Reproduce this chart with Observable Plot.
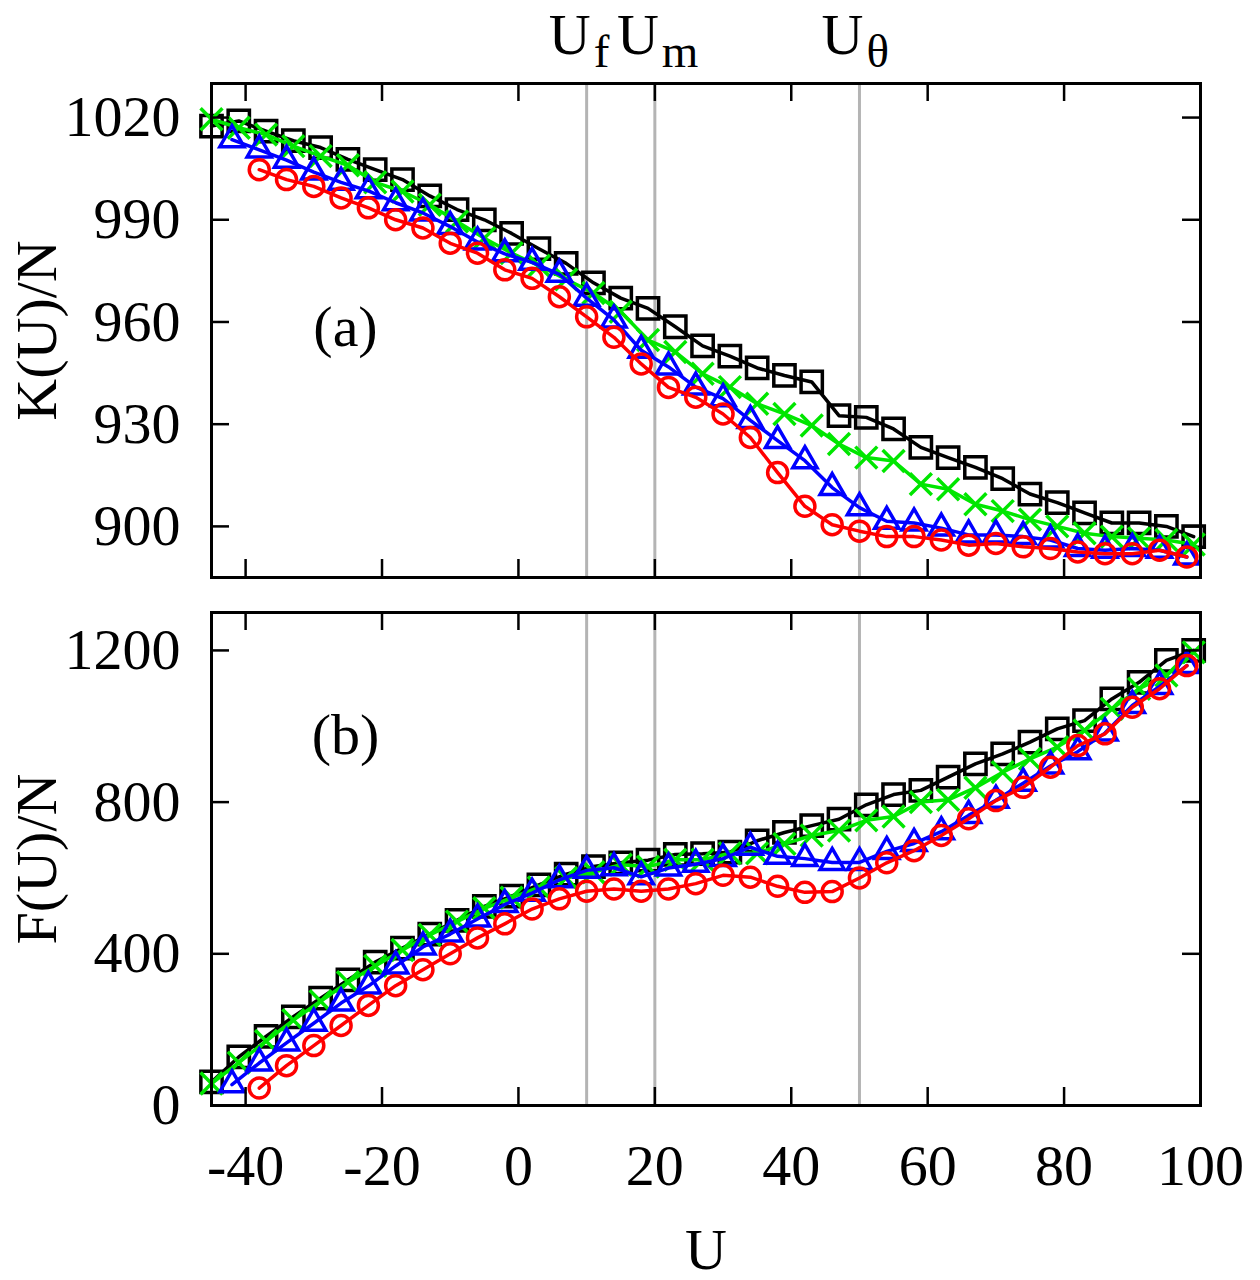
<!DOCTYPE html>
<html><head><meta charset="utf-8">
<script src="https://cdn.jsdelivr.net/npm/d3@7"></script>
<script src="https://cdn.jsdelivr.net/npm/@observablehq/plot@0.6"></script>
<style>body{margin:0;background:#fff} #chart{width:1260px}</style>
</head><body><div id="chart"></div>
<script>
// U grids
const uOdd = [-45,-41,-37,-33,-29,-25,-21,-17,-13,-9,-5,-1,3,7,11,15,19,23,27,31,35,39,43,47,51,55,59,63,67,71,75,79,83,87,91,95,99];
const uTri = [-42,-38,-34,-30,-26,-22,-18,-14,-10,-6,-2,2,6,10,14,18,22,26,30,34,38,42,46,50,54,58,62,66,70,74,78,82,86,90,94,98];
const uCirc = [-38,-34,-30,-26,-22,-18,-14,-10,-6,-2,2,6,10,14,18,22,26,30,34,38,42,46,50,54,58,62,66,70,74,78,82,86,90,94,98];

// (a) K(U)/N
const kBlack = [1017.5,1019,1016,1013.2,1011.2,1007.7,1004.7,1001.8,997,993,990,986,981.5,977.2,971.5,967,964,958.6,953,950,946.5,944.3,942.4,932.5,932,928.6,923.2,920.2,917.3,914,909.5,907,904,901,901,900,897];
const kGreen = [1019.5,1017,1015,1011.6,1008.7,1006,1001,998.3,994.4,989.5,984.6,980.2,976.5,972.5,968.5,963,954.7,951.2,944.8,940.9,936,933,929.6,924.2,920.2,919.2,912.4,910.9,906.5,904.5,902,900,898,897,896.5,896,894.7];
const kBlue = [1013.5,1010.5,1007.5,1004,1001,998.5,995,992,988,983.5,980,977.5,974,967,960.6,951.7,946.8,940.9,937.5,931.1,925.2,919.3,911.4,905.5,901.5,901,899.5,897.5,897.5,897,896,893.5,893,893.5,893,891];
const kRed = [1004.7,1001.8,999.8,996.4,993.5,990,987.6,983.1,980.2,975.3,972.8,967.4,961.5,955.5,947.7,940.8,937.9,933,926.1,915.8,905.9,900.5,898.6,897,897,896,894.5,895,894,893.5,892.5,892,892,893,891];

// (b) F(U)/N
const fBlack = [62,128,182,234,283,331,378,415,452,488,525,552,582,610,630,640,647,662,664,668,698,720,738,755,793,820,831,866,901,927,958,993,1015,1072,1116,1174,1200];
const fGreen = [58,113,170,225,275,325,368,410,450,485,520,548,575,600,615,635,630,648,648,665,665,690,712,725,752,762,800,806,838,879,914,945,989,1046,1099,1134,1195];
const fBlue = [55,112,165,217,270,315,368,418,452,492,530,560,595,620,627,603,626,636,651,681,657,651,641,641,670,691,722,765,805,850,895,933,982,1055,1105,1160];
const fRed = [46,105,158,211,264,316,358,400,442,479,518,545,565,571,565,571,585,607,602,578,562,564,600,640,672,712,756,804,839,892,949,980,1050,1099,1160];

const xTicks = [-40,-20,0,20,40,60,80,100];
const kTicks = [900,930,960,990,1020];
const fTicks = [0,400,800,1200];
const vLines = [10,20,50];
const vLabels = [{u:10, base:"U", sub:"f"},{u:20, base:"U", sub:"m"},{u:50, base:"U", sub:"θ"}];

const font = "'Liberation Serif','Times New Roman',serif";
const W = 1260, mL = 211, mR = 60, FS = 58;

function zipSeries(us, vs){ return us.map((u,i)=>({u, v: vs[i]})); }

function panel({height, marginTop, marginBottom, yDomain, yTicks, series, yLabel, tag, tagDy, showX, showTop}) {
  const fw = W - mL - mR, fh = height - marginTop - marginBottom, T = 18;
  const marks = [
    Plot.ruleX(vLines, {x: d => d, stroke: "#b4b4b4", strokeWidth: 3})
  ];
  for (const s of series) {
    const data = zipSeries(s.u, s.v);
    marks.push(Plot.line(data, {x: "u", y: "v", stroke: s.color, strokeWidth: 3.5}));
    marks.push(Plot.dot(data, {x: "u", y: "v", symbol: s.symbol, r: s.r, stroke: s.color, strokeWidth: 3.5, fill: "none"}));
  }
  marks.push(
    Plot.ruleX(xTicks, {x: d => d, insetTop: fh - T, stroke: "black", strokeWidth: 2.5}),
    Plot.ruleX(xTicks, {x: d => d, insetBottom: fh - T, stroke: "black", strokeWidth: 2.5}),
    Plot.ruleY(yTicks, {y: d => d, insetRight: fw - T, stroke: "black", strokeWidth: 2.5}),
    Plot.ruleY(yTicks, {y: d => d, insetLeft: fw - T, stroke: "black", strokeWidth: 2.5}),
    Plot.frame({stroke: "black", strokeWidth: 3}),
    Plot.axisY(yTicks, {tickSize: 0, tickPadding: 31, fontSize: FS, label: null, tickFormat: d => String(d)}),
    Plot.text([yLabel], {text: d => d, frameAnchor: "left", textAnchor: "middle", lineAnchor: "middle", rotate: -90, dx: -174, fontSize: FS}),
    Plot.text([tag], {text: d => d, frameAnchor: "top-left", dx: 134, dy: tagDy, fontSize: FS, textAnchor: "middle", lineAnchor: "middle"})
  );
  if (showX) {
    marks.push(
      Plot.axisX(xTicks, {tickSize: 0, tickPadding: 38, fontSize: FS, label: null, tickFormat: d => String(d)}),
      Plot.text(["U"], {text: d => d, frameAnchor: "bottom", textAnchor: "middle", lineAnchor: "middle", dy: 145, fontSize: FS})
    );
  } else {
    marks.push(Plot.axisX({ticks: [], label: null, tickSize: 0}));
  }
  if (showTop) {
    marks.push(
      Plot.text(vLabels, {x: "u", text: "base", frameAnchor: "top", textAnchor: "end", lineAnchor: "middle", dx: 4, dy: -48, fontSize: FS}),
      Plot.text(vLabels, {x: "u", text: "sub", frameAnchor: "top", textAnchor: "start", lineAnchor: "middle", dx: 7, dy: -32, fontSize: 47})
    );
  }
  return Plot.plot({
    width: W, height, marginLeft: mL, marginRight: mR, marginTop, marginBottom,
    style: {fontFamily: font, fontSize: FS + "px", background: "white", overflow: "visible", color: "black"},
    x: {domain: [-45, 100]},
    y: {domain: yDomain},
    marks
  });
}

const chart = document.getElementById("chart");
chart.append(panel({
  height: 595, marginTop: 83, marginBottom: 18, yDomain: [885, 1030], yTicks: kTicks,
  yLabel: "K(U)/N", tag: "(a)", tagDy: 244, showX: false, showTop: true,
  series: [
    {u: uOdd, v: kBlack, color: "black", symbol: "square", r: 12},
    {u: uOdd, v: kGreen, color: "#00e600", symbol: "times", r: 10},
    {u: uTri, v: kBlue, color: "#0000ff", symbol: "triangle", r: 9},
    {u: uCirc, v: kRed, color: "#ff0000", symbol: "circle", r: 10}
  ]
}));
chart.append(panel({
  height: 685, marginTop: 17, marginBottom: 175, yDomain: [0, 1300], yTicks: fTicks,
  yLabel: "F(U)/N", tag: "(b)", tagDy: 123, showX: true, showTop: false,
  series: [
    {u: uOdd, v: fBlack, color: "black", symbol: "square", r: 12},
    {u: uOdd, v: fGreen, color: "#00e600", symbol: "times", r: 10},
    {u: uTri, v: fBlue, color: "#0000ff", symbol: "triangle", r: 9},
    {u: uCirc, v: fRed, color: "#ff0000", symbol: "circle", r: 10}
  ]
}));
for (const svg of chart.querySelectorAll("svg")) svg.style.display = "block";
</script></body></html>
